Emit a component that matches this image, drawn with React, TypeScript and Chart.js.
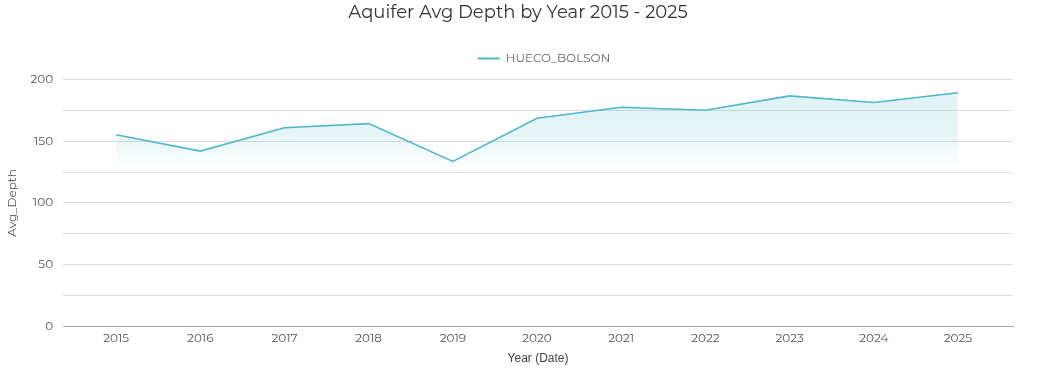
import React, { useEffect, useRef } from "react";
import { Chart, registerables } from "chart.js";

Chart.register(...registerables);

const years = [2015, 2016, 2017, 2018, 2019, 2020, 2021, 2022, 2023, 2024, 2025];
const depthValues = [155.3, 142.0, 161.0, 164.3, 133.6, 168.6, 177.6, 175.2, 186.8, 181.4, 189.3];
const seriesName = "HUECO_BOLSON";
const yTicks = [0, 50, 100, 150, 200];

const LINE = "rgb(77,184,203)";
const FONT = "Montserrat, 'Noto Sans', sans-serif";

const shiftPlugin = {
  id: "shiftHeader",
  afterLayout(chart: any) {
    const t = chart.titleBlock;
    if (t) {
      t.left += 9;
      t.right += 9;
    }
    const l = chart.legend;
    if (l) {
      l.left += 35;
      l.right += 35;
      l.top -= 5;
      l.bottom -= 5;
    }
  },
};

export default function App() {
  const ref = useRef<HTMLCanvasElement | null>(null);

  useEffect(() => {
    if (!ref.current) return;
    const chart = new Chart(ref.current, {
      type: "line",
      plugins: [shiftPlugin],
      data: {
        datasets: [
          {
            label: seriesName,
            data: years.map((x, i) => ({ x, y: depthValues[i] })),
            borderColor: LINE,
            borderWidth: 1.6,
            pointRadius: 0,
            tension: 0,
            fill: "origin",
            backgroundColor: (ctx: any) => {
              const area = ctx.chart.chartArea;
              if (!area) return "rgba(77,184,203,0.15)";
              const g = ctx.chart.ctx.createLinearGradient(0, area.top, 0, area.bottom);
              g.addColorStop(0, "rgba(77,184,203,0.18)");
              g.addColorStop(0.22, "rgba(77,184,203,0.15)");
              g.addColorStop(0.36, "rgba(77,184,203,0)");
              g.addColorStop(1, "rgba(77,184,203,0)");
              return g;
            },
          },
        ],
      },
      options: {
        animation: false,
        responsive: false,
        maintainAspectRatio: false,
        layout: { padding: { left: 5, right: 24, top: 0, bottom: 7 } },
        plugins: {
          title: {
            display: true,
            text: "Aquifer Avg Depth by Year 2015 - 2025",
            color: "#333",
            font: { family: FONT, size: 18, weight: "normal" },
            padding: { top: 2, bottom: 12 },
          },
          legend: {
            display: true,
            labels: {
              color: "#666",
              font: { family: FONT, size: 12 },
              boxWidth: 22,
              boxHeight: 0,
              padding: 22,
              generateLabels: () => [
                {
                  text: seriesName,
                  strokeStyle: LINE,
                  fillStyle: LINE,
                  lineWidth: 2,
                  fontColor: "#666",
                  datasetIndex: 0,
                },
              ],
            },
          },
          tooltip: { enabled: false },
        },
        scales: {
          x: {
            type: "linear",
            min: 2015 - 0.63,
            max: 2025 + 0.654,
            afterBuildTicks: (scale: any) => {
              scale.ticks = years.map((v) => ({ value: v }));
            },
            grid: { display: false, drawTicks: false },
            border: { display: true, color: "#aaa" },
            ticks: {
              color: "#555",
              font: { family: FONT, size: 12 },
              callback: (v: any) => String(v),
              maxRotation: 0,
              autoSkip: false,
              padding: 5,
            },
            title: {
              display: true,
              text: "Year (Date)",
              color: "#444",
              font: { family: "'Liberation Sans', Arial, sans-serif", size: 12 },
              padding: { top: 1, bottom: 0 },
            },
          },
          y: {
            min: 0,
            max: 200,
            ticks: {
              stepSize: 25,
              color: "#555",
              font: { family: FONT, size: 12 },
              callback: (v: any) => (yTicks.includes(Number(v)) ? String(v) : ""),
              padding: 10,
            },
            grid: { color: "#ddd", drawTicks: false },
            border: { display: false },
            title: {
              display: true,
              text: "Avg_Depth",
              color: "#555",
              font: { family: FONT, size: 12 },
              padding: { top: 0, bottom: 1 },
            },
          },
        },
      },
    });
    return () => chart.destroy();
  }, []);

  return (
    <div style={{ position: "absolute", left: 0, top: 0, width: 1037, height: 373, background: "#fff" }}>
      <canvas ref={ref} width={1037} height={373} style={{ width: 1037, height: 373 }} />
    </div>
  );
}
